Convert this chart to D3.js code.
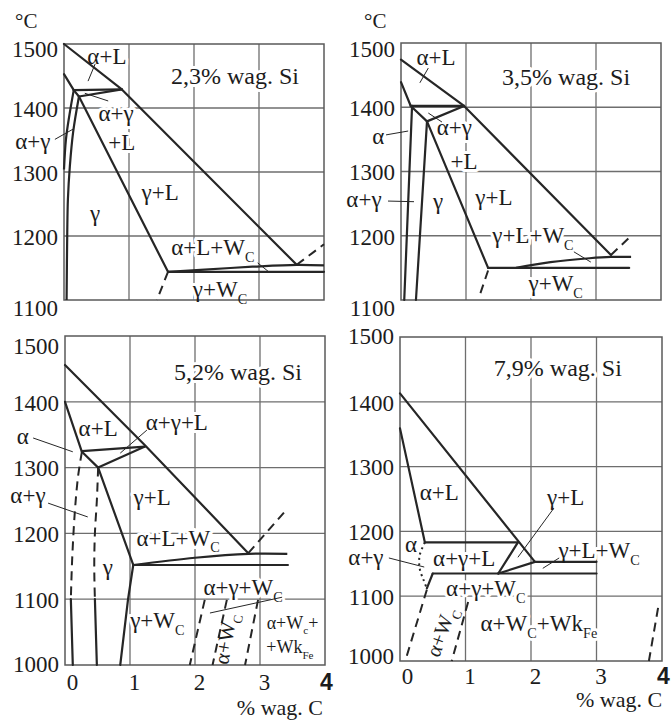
<!DOCTYPE html>
<html>
<head>
<meta charset="utf-8">
<script src="https://cdn.jsdelivr.net/npm/d3@7"></script>
</head>
<body style="margin:0">
<svg id="fesic" width="672" height="720"></svg>
<script>
// ---------- axis values ----------
const carbonTicks = [0, 1, 2, 3, 4];
const tempTicksUpper = [1500, 1400, 1300, 1200, 1100];
const tempTicksLower = [1500, 1400, 1300, 1200, 1100, 1000];
const siTitles = ["2,3% wag. Si", "3,5% wag. Si", "5,2% wag. Si", "7,9% wag. Si"];

// ---------- 2,3 % Si section: [%C, °C] ----------
const si23Lines = [
  [[0, 1500], [0.89, 1429], [3.58, 1155]],
  [[0, 1453], [0.15, 1428]],
  [[0.15, 1428], [0.89, 1429]],
  [[0.15, 1428], [0.23, 1418], [0.89, 1429]],
  [[0.23, 1418], [1.6, 1144]],
  [[1.6, 1144], [4, 1144]]
];
const si23Curves = [
  [[0.15, 1428], [0.08, 1387], [0.03, 1351], [0, 1304]],
  [[0.23, 1418], [0.14, 1362], [0.09, 1309], [0.06, 1257], [0.05, 1205], [0.04, 1100]],
  [[1.6, 1144], [2.1, 1147], [2.9, 1152], [3.58, 1155], [4, 1154]]
];
const si23Dashed = [
  [[3.58, 1155], [4, 1187]],
  [[1.6, 1144], [1.43, 1100]]
];
const si23Labels = [
  ["α+L", 0.66, 1480], ["α+γ", 0.8, 1392], ["+L", 0.89, 1346], ["α+γ", -0.48, 1348],
  ["γ", 0.48, 1236], ["γ+L", 1.48, 1268], ["α+L+W_{C}", 2.29, 1182], ["γ+W_{C}", 2.4, 1116]
];
const si23Leaders = [
  [[0.48, 1469], [0.37, 1442]],
  [[0.68, 1411], [0.32, 1423]],
  [[-0.14, 1351], [0.14, 1367]],
  [[2.98, 1158], [3.15, 1144]]
];

// ---------- 3,5 % Si section ----------
const si35Lines = [
  [[0, 1474], [0.97, 1402], [3.23, 1170]],
  [[0, 1439], [0.15, 1402]],
  [[0.15, 1402], [0.97, 1402]],
  [[0.15, 1402], [0.4, 1378], [0.97, 1402]],
  [[0.17, 1402], [0.05, 1100]],
  [[0.4, 1378], [0.23, 1100]],
  [[0.4, 1378], [1.34, 1150]],
  [[1.34, 1150], [3.51, 1150]]
];
const si35Curves = [
  [[1.77, 1150], [2.3, 1159], [2.9, 1165], [3.23, 1167], [3.54, 1167]]
];
const si35Dashed = [
  [[3.23, 1170], [3.51, 1197]],
  [[1.34, 1146], [1.2, 1104]]
];
const si35Labels = [
  ["α+L", 0.54, 1477], ["α+γ", 0.82, 1368], ["+L", 0.97, 1315], ["α", -0.35, 1354],
  ["α+γ", -0.57, 1256], ["γ", 0.57, 1253], ["γ+L", 1.43, 1260],
  ["γ+L+W_{C}", 2.03, 1201], ["γ+W_{C}", 2.38, 1126]
];
const si35Leaders = [
  [[0.29, 1438], [0.42, 1461]],
  [[0.42, 1391], [0.63, 1377]],
  [[-0.23, 1357], [0.11, 1363]],
  [[-0.2, 1254], [0.2, 1253]],
  [[2.66, 1175], [2.92, 1159]]
];

// ---------- 5,2 % Si section ----------
const si52Lines = [
  [[0, 1456], [1.23, 1334], [2.82, 1170]],
  [[0, 1400], [0.26, 1324], [0.51, 1300]],
  [[0.26, 1325], [1.23, 1332]],
  [[1.23, 1332], [0.51, 1300]],
  [[0.51, 1300], [1.05, 1152]],
  [[1.05, 1152], [0.97, 1100], [0.85, 1000]],
  [[1.05, 1152], [3.43, 1152]],
  [[0.09, 1100], [0.12, 1000]],
  [[0.46, 1100], [0.49, 1000]]
];
const si52Curves = [
  [[1.05, 1152], [2.0, 1163], [2.82, 1169], [3.42, 1169]]
];
const si52Dashed = [
  [[0.26, 1324], [0.2, 1286], [0.15, 1231], [0.11, 1160], [0.09, 1100]],
  [[0.51, 1300], [0.49, 1250], [0.46, 1200], [0.45, 1150], [0.46, 1100]],
  [[2.82, 1170], [3.38, 1233]],
  [[2.15, 1099], [1.92, 1000]],
  [[2.49, 1099], [2.27, 1000]],
  [[2.97, 1099], [2.77, 1000]]
];
const si52Labels = [
  ["α+L", 0.51, 1360], ["α+γ+L", 1.72, 1368], ["α", -0.65, 1347], ["α+γ", -0.57, 1258],
  ["γ+L", 1.34, 1255], ["α+L+W_{C}", 1.74, 1193], ["γ", 0.66, 1149],
  ["α+γ+W_{C}", 2.74, 1118], ["γ+W_{C}", 1.42, 1068]
];
const si52SmallLabels = [["α+W_{c}+", 3.5, 1064], ["+Wk_{Fe}", 3.46, 1027]];
const si52Rotated = [["α+W_{C}", 2.47, 1040]];
const si52Leaders = [
  [[1.26, 1357], [0.85, 1322]],
  [[-0.49, 1345], [0.12, 1324]],
  [[-0.26, 1246], [0.35, 1225]],
  [[2.23, 1079], [3.34, 1103]]
];

// ---------- 7,9 % Si section ----------
const si79Lines = [
  [[0, 1413], [2.06, 1153]],
  [[0, 1359], [0.38, 1183]],
  [[0.38, 1183], [1.8, 1183]],
  [[1.8, 1183], [1.5, 1135]],
  [[1.5, 1135], [2.06, 1153]],
  [[2.06, 1153], [3.0, 1153]],
  [[0.5, 1135], [3.0, 1135]],
  [[0.5, 1135], [0.41, 1112]]
];
const si79Dotted = [
  [[0.38, 1183], [0.3, 1163], [0.3, 1143], [0.36, 1125], [0.41, 1112]]
];
const si79Dashed = [
  [[0.41, 1110], [0.08, 1000]],
  [[1.04, 1091], [0.79, 1000]],
  [[3.94, 1082], [3.8, 1000]]
];
const si79Labels = [
  ["α+L", 0.6, 1260], ["γ+L", 2.53, 1253], ["γ+L+W_{C}", 3.04, 1171], ["α", 0.17, 1180],
  ["α+γ", -0.52, 1160], ["α+γ+L", 0.98, 1159], ["α+γ+W_{C}", 1.31, 1112],
  ["α+W_{C}+Wk_{Fe}", 2.12, 1058]
];
const si79Rotated = [["α+W_{C}", 0.63, 1045]];
const si79Leaders = [
  [[2.35, 1236], [1.8, 1160]],
  [[2.43, 1159], [2.18, 1143]],
  [[-0.17, 1159], [0.37, 1145]]
];

// ---------- layout of the four sections ----------
const panels = [
  { title: siTitles[0], titleAt: [2.63, 1450], lines: si23Lines, curves: si23Curves, dashed: si23Dashed, dotted: [],
    labels: si23Labels, small: [], rotated: [], leaders: si23Leaders,
    left: 64, right: 324, top: 44, bottom: 300, tMin: 1100, temps: tempTicksUpper,
    tickNudge: { 1500: 4, 1100: 7 }, degree: [15, 28], carbonAxis: null, rotAngle: 0 },
  { title: siTitles[1], titleAt: [2.54, 1447], lines: si35Lines, curves: si35Curves, dashed: si35Dashed, dotted: [],
    labels: si35Labels, small: [], rotated: [], leaders: si35Leaders,
    left: 401, right: 661, top: 43, bottom: 300, tMin: 1100, temps: tempTicksUpper,
    tickNudge: { 1500: 5, 1100: 7 }, degree: [364, 28], carbonAxis: null, rotAngle: 0 },
  { title: siTitles[2], titleAt: [2.66, 1445], lines: si52Lines, curves: si52Curves, dashed: si52Dashed, dotted: [],
    labels: si52Labels, small: si52SmallLabels, rotated: si52Rotated, leaders: si52Leaders,
    left: 65, right: 325, top: 336, bottom: 665, tMin: 1000, temps: tempTicksLower,
    tickNudge: { 1500: 9, 1000: -2 }, degree: null, carbonAxis: { pad: 9, unitX: 323, unitY: 715, anchor: "end" }, rotAngle: -80 },
  { title: siTitles[3], titleAt: [2.41, 1452], lines: si79Lines, curves: [], dashed: si79Dashed, dotted: si79Dotted,
    labels: si79Labels, small: [], rotated: si79Rotated, leaders: si79Leaders,
    left: 400, right: 662, top: 337, bottom: 661, tMin: 1000, temps: tempTicksLower,
    tickNudge: { 1500: -2, 1000: -6 }, degree: null, carbonAxis: { pad: 7, unitX: 576, unitY: 707, anchor: "start" }, rotAngle: -70 }
];

const INK = "#262626";
const TXT = "#1c1c1c";
const GRID = "#6e6e6e";
const SERIF = "'Liberation Serif', 'Times New Roman', Times";
const SANS = "'Liberation Sans', Arial";

const svg = d3.select("#fesic");
svg.node().style.setProperty("font-family", SERIF, "important");

// sets the face on an element so that nothing else can override it
function face(sel, fam) {
  sel.attr("font-family", fam).each(function () { this.style.setProperty("font-family", fam, "important"); });
  return sel;
}

// writes "A_{b}" style strings as text with lowered subscripts
function richText(sel, str, size) {
  const parts = str.split(/(_\{[^}]*\})/).filter(s => s.length);
  let lowered = false;
  parts.forEach(part => {
    if (part.startsWith("_{")) {
      face(sel.append("tspan"), SERIF).attr("font-size", size * 0.62).attr("dy", size * 0.3).text(part.slice(2, -1));
      lowered = true;
    } else {
      face(sel.append("tspan"), SERIF).attr("dy", lowered ? -size * 0.3 : 0).text(part);
      lowered = false;
    }
  });
}

function drawPanel(p) {
  const x = d3.scaleLinear().domain([0, 4]).range([p.left, p.right]);
  const y = d3.scaleLinear().domain([p.tMin, 1500]).range([p.bottom, p.top]);
  const g = svg.append("g");

  // grid
  g.append("g").selectAll("line").data([1, 2, 3]).join("line")
    .attr("x1", d => x(d)).attr("x2", d => x(d)).attr("y1", y(1500)).attr("y2", y(p.tMin))
    .attr("stroke", GRID).attr("stroke-width", 1.3);
  g.append("g").selectAll("line").data(p.temps.filter(t => t > p.tMin && t < 1500)).join("line")
    .attr("x1", x(0)).attr("x2", x(4)).attr("y1", d => y(d)).attr("y2", d => y(d))
    .attr("stroke", GRID).attr("stroke-width", 1.3);

  // all texts inside the section: [string, C, T, size, angle]
  const texts = [];
  texts.push([p.title, p.titleAt[0], p.titleAt[1], 24, 0]);
  p.labels.forEach(l => texts.push([l[0], l[1], l[2], 23, 0]));
  p.small.forEach(l => texts.push([l[0], l[1], l[2], 18, 0]));
  p.rotated.forEach(l => texts.push([l[0], l[1], l[2], 21, p.rotAngle]));

  function placeText(layer, t, halo) {
    const [str, c, temp, size, ang] = t;
    const el = face(layer.append("text"), SERIF)
      .attr("text-anchor", "middle")
      .attr("font-size", size)
      .attr("transform", `translate(${x(c)},${y(temp)}) rotate(${ang})`)
      .attr("y", size * 0.33);
    if (halo) el.attr("stroke", "#fff").attr("stroke-width", 6).attr("stroke-linejoin", "round").attr("fill", "#fff");
    else el.attr("fill", TXT);
    richText(el, str, size);
  }

  // white knockouts so labels interrupt the grid
  const haloLayer = g.append("g");
  texts.forEach(t => placeText(haloLayer, t, true));

  // frame
  g.append("rect").attr("x", x(0)).attr("y", y(1500))
    .attr("width", x(4) - x(0)).attr("height", y(p.tMin) - y(1500))
    .attr("fill", "none").attr("stroke", "#5a5a5a").attr("stroke-width", 1.5);

  const straight = d3.line().x(d => x(d[0])).y(d => y(d[1]));
  const smooth = d3.line().x(d => x(d[0])).y(d => y(d[1])).curve(d3.curveCatmullRom.alpha(0.5));

  g.append("g").selectAll("path").data(p.lines).join("path")
    .attr("d", straight).attr("fill", "none").attr("stroke", INK).attr("stroke-width", 2.2)
    .attr("stroke-linejoin", "round").attr("stroke-linecap", "round");
  g.append("g").selectAll("path").data(p.curves).join("path")
    .attr("d", smooth).attr("fill", "none").attr("stroke", INK).attr("stroke-width", 2.2);
  g.append("g").selectAll("path").data(p.dashed).join("path")
    .attr("d", smooth).attr("fill", "none").attr("stroke", INK).attr("stroke-width", 2)
    .attr("stroke-dasharray", "9,6");
  g.append("g").selectAll("path").data(p.dotted).join("path")
    .attr("d", smooth).attr("fill", "none").attr("stroke", INK).attr("stroke-width", 2)
    .attr("stroke-dasharray", "2,3.5");
  g.append("g").selectAll("path").data(p.leaders).join("path")
    .attr("d", straight).attr("fill", "none").attr("stroke", INK).attr("stroke-width", 1);

  const textLayer = g.append("g");
  texts.forEach(t => placeText(textLayer, t, false));

  // temperature axis
  const yAxis = d3.axisLeft(y).tickValues(p.temps).tickSize(0).tickPadding(6).tickFormat(d3.format("d"));
  const ya = g.append("g").attr("transform", `translate(${p.left},0)`).call(yAxis);
  ya.attr("font-size", null);
  face(ya, SERIF);
  ya.select(".domain").remove();
  face(ya.selectAll(".tick text"), SERIF)
    .attr("font-size", 23).attr("fill", TXT)
    .attr("dy", "0.36em").attr("y", d => p.tickNudge[d] || 0);

  if (p.degree) {
    face(svg.append("text"), SERIF).attr("x", p.degree[0]).attr("y", p.degree[1])
      .attr("font-size", 21).attr("fill", TXT).text("°C");
  }

  if (p.carbonAxis) {
    const xAxis = d3.axisBottom(x).tickValues(carbonTicks).tickSize(0).tickPadding(p.carbonAxis.pad).tickFormat(d3.format("d"));
    const xa = g.append("g").attr("transform", `translate(0,${p.bottom})`).call(xAxis);
    xa.attr("font-size", null);
    face(xa, SERIF);
    xa.select(".domain").remove();
    const tx = xa.selectAll(".tick text")
      .attr("font-size", 23).attr("fill", TXT)
      .attr("font-weight", d => d === 4 ? "bold" : "normal")
      .attr("x", d => d === 0 ? 7 : (d === 4 ? 1 : 4));
    face(tx.filter(d => d !== 4), SERIF);
    face(tx.filter(d => d === 4), SANS);
    face(svg.append("text"), SERIF).attr("x", p.carbonAxis.unitX).attr("y", p.carbonAxis.unitY)
      .attr("text-anchor", p.carbonAxis.anchor)
      .attr("font-size", 22).attr("fill", TXT).text("% wag. C");
  }
}

panels.forEach(drawPanel);
</script>
</body>
</html>
